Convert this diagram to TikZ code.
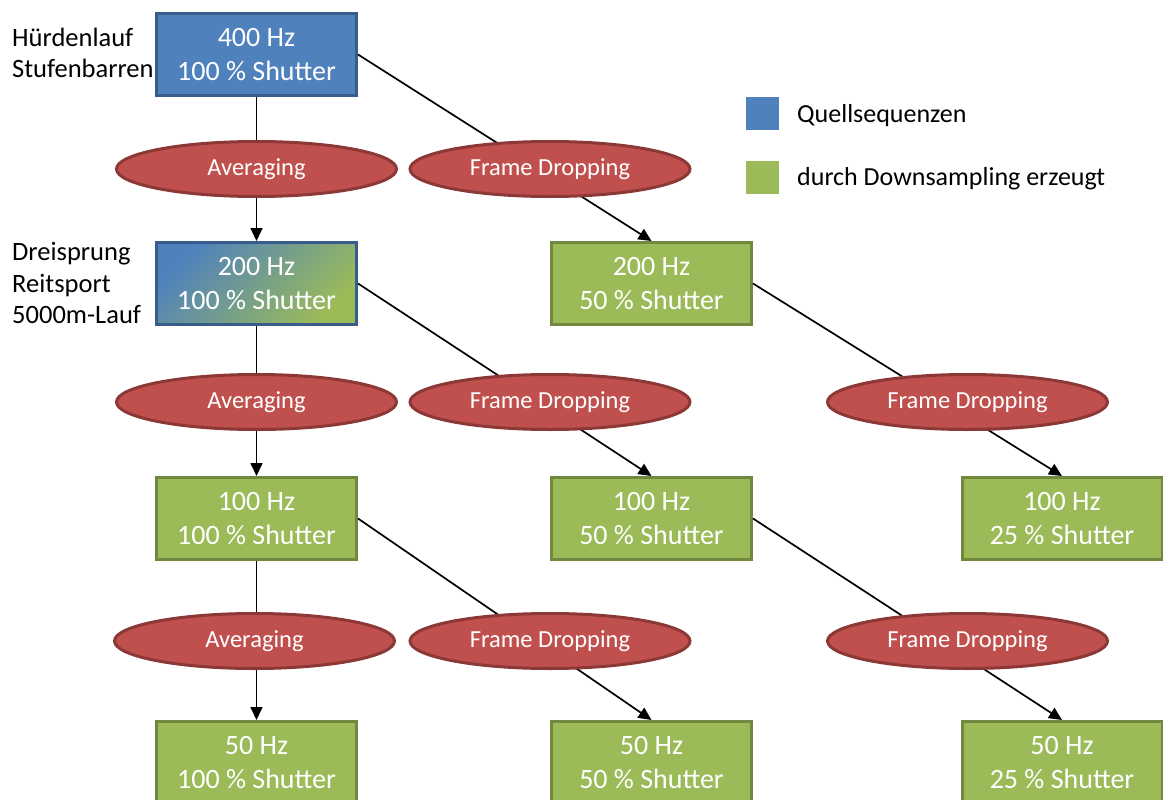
\documentclass[tikz,border=0pt]{standalone}
\usepackage{fontspec}
\setmainfont{Carlito}
\usepackage{tikz}
\usetikzlibrary{arrows.meta,positioning,shapes.geometric}
\definecolor{qblue}{HTML}{4F81BD}
\definecolor{qblueD}{HTML}{385D8A}
\definecolor{dgreen}{HTML}{9BBB59}
\definecolor{dgreenD}{HTML}{71893F}
\definecolor{opred}{HTML}{C0504D}
\definecolor{opredD}{HTML}{8C3836}

\begin{document}
\begin{tikzpicture}[
  x=1pt, y=-1pt,
  every node/.style={align=center},
  bx/.style={draw, line width=3pt, minimum width=200pt, minimum height=82pt,
             inner sep=0pt, text=white, font=\fontsize{28}{34}\selectfont},
  src/.style={bx, fill=qblue, draw=qblueD},
  mix/.style={bx, draw=qblueD, top color=qblue, bottom color=dgreen, shading angle=45},
  dwn/.style={bx, fill=dgreen, draw=dgreenD},
  op/.style={ellipse, draw=opredD, fill=opred, line width=3pt, minimum width=280pt,
             minimum height=55pt, inner sep=0pt, text=white,
             font=\fontsize{24.5}{29}\selectfont},
  fl/.style={-{Triangle[length=13pt,width=12pt]}, line width=1.7pt},
  lbl/.style={anchor=west, align=left, inner sep=0pt, font=\fontsize{26.5}{31.5}\selectfont},
  key/.style={minimum size=33pt, inner sep=0pt},
  keytxt/.style={anchor=west, inner sep=0pt, font=\fontsize{26}{31}\selectfont},
]
\useasboundingbox (0,0) rectangle (1163,800);

% ---- sequences ----
\node[src] (b11) at (256.5,54.5)  {400 Hz\\100 \% Shutter};
\node[mix] (b21) at (256.5,283.5) {200 Hz\\100 \% Shutter};
\node[dwn] (b22) at (651.5,283.5) {200 Hz\\50 \% Shutter};
\node[dwn] (b31) at (256.5,518.5) {100 Hz\\100 \% Shutter};
\node[dwn] (b32) at (651.5,518.5) {100 Hz\\50 \% Shutter};
\node[dwn] (b33) at (1062,518.5)  {100 Hz\\25 \% Shutter};
\node[dwn] (b41) at (256.5,762.5) {50 Hz\\100 \% Shutter};
\node[dwn] (b42) at (651.5,762.5) {50 Hz\\50 \% Shutter};
\node[dwn] (b43) at (1062,762.5)  {50 Hz\\25 \% Shutter};

\foreach \a/\b in {b11/b21, b21/b31, b31/b41}
  \draw[fl] (\a.south) -- (\b.north);
\foreach \a/\b in {b11/b22, b21/b32, b22/b33, b31/b42, b32/b43}
  \draw[fl] (\a.east) -- (\b.north);

% ---- operations ----
\node[op] (e1a) at (256.5,169) {Averaging};
\node[op] (e1f) at (550,169)   {Frame Dropping};
\node[op] (e2a) at (256.5,402) {Averaging};
\node[op] (e2f) at (550,402)   {Frame Dropping};
\node[op] (e2g) at (967.5,402) {Frame Dropping};
\node[op] (e3a) at (254.5,641) {Averaging};
\node[op] (e3f) at (550,641)   {Frame Dropping};
\node[op] (e3g) at (967.5,641) {Frame Dropping};

% ---- sports ----
\node[lbl] (sp1) at (12,53)  {Hürdenlauf\\Stufenbarren};
\node[lbl] (sp2) at (12,283) {Dreisprung\\Reitsport\\5000m-Lauf};

% ---- legend ----
\node[key, fill=qblue]  (k1) at (762.5,113.5) {};
\node[key, fill=dgreen] (k2) at (762.5,177.5) {};
\node[keytxt] (t1) at (797,116) {Quellsequenzen};
\node[keytxt] (t2) at (797,179) {durch Downsampling erzeugt};

\end{tikzpicture}
\end{document}
